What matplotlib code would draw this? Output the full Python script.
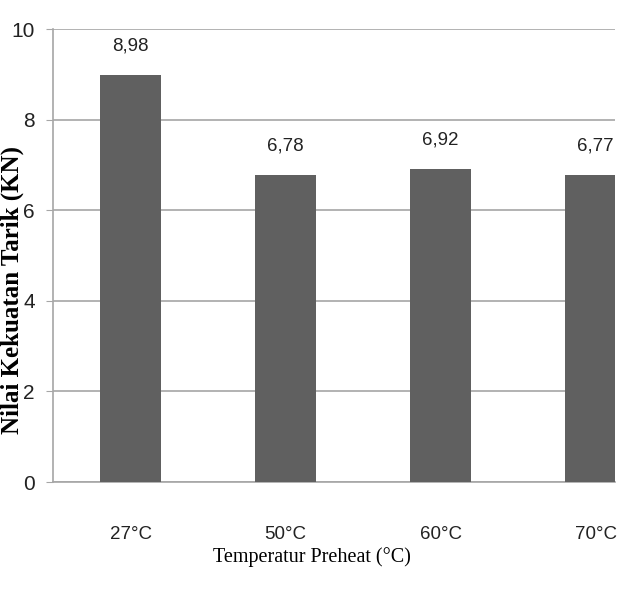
import matplotlib
matplotlib.use("Agg")
import matplotlib.pyplot as plt
import numpy as np

categories = ["27°C", "50°C", "60°C", "70°C"]
values = [8.98, 6.78, 6.92, 6.77]
value_labels = ["8,98", "6,78", "6,92", "6,77"]
yticks = [0, 2, 4, 6, 8, 10]

narrow = ["Liberation Sans Narrow", "Liberation Sans", "DejaVu Sans"]
serif = ["Liberation Serif", "DejaVu Serif"]

fig = plt.figure(figsize=(6.26, 5.97), dpi=100)
ax = fig.add_axes([0.0847, 0.1926, 0.8978, 0.7588])

x = np.arange(len(categories))
bars = ax.bar(x, values, width=0.39, color="#606060", zorder=3)

for xi, v, lab in zip(x, values, value_labels):
    ax.text(xi, v + 0.45, lab, ha="center", va="bottom", fontsize=13.5,
            family=narrow, color="#222222", clip_on=False)

ax.set_xlim(-0.5, 3.126)
ax.set_ylim(0, 10)
ax.set_yticks(yticks)
ax.set_yticklabels([str(t) for t in yticks], family=narrow, fontsize=15)
ax.set_xticks(x)
ax.set_xticklabels(categories, family=narrow, fontsize=13.5)

ax.grid(axis="y", color="#a6a6a6", linewidth=1.2, zorder=0)
for s in ["top", "right"]:
    ax.spines[s].set_visible(False)
ax.spines["left"].set_color("#a6a6a6")
ax.spines["bottom"].set_color("#a6a6a6")
ax.spines["left"].set_linewidth(1.2)
ax.spines["bottom"].set_linewidth(1.2)
ax.tick_params(axis="y", length=5, color="#a6a6a6", pad=8, labelcolor="#222222")
ax.tick_params(axis="x", length=0, pad=32, labelcolor="#222222")

# axis titles placed in figure pixels to match the reference offsets
fig.text(12 / 626, 1 - 290 / 597, "Nilai Kekuatan Tarik (KN)", family=serif,
         fontweight="bold", fontsize=18, rotation=90, ha="center", va="center")
fig.text(312 / 626, 1 - 557 / 597, "Temperatur Preheat (°C)", family=serif,
         fontsize=14.5, ha="center", va="center")

fig.savefig("out.png", dpi=100)
